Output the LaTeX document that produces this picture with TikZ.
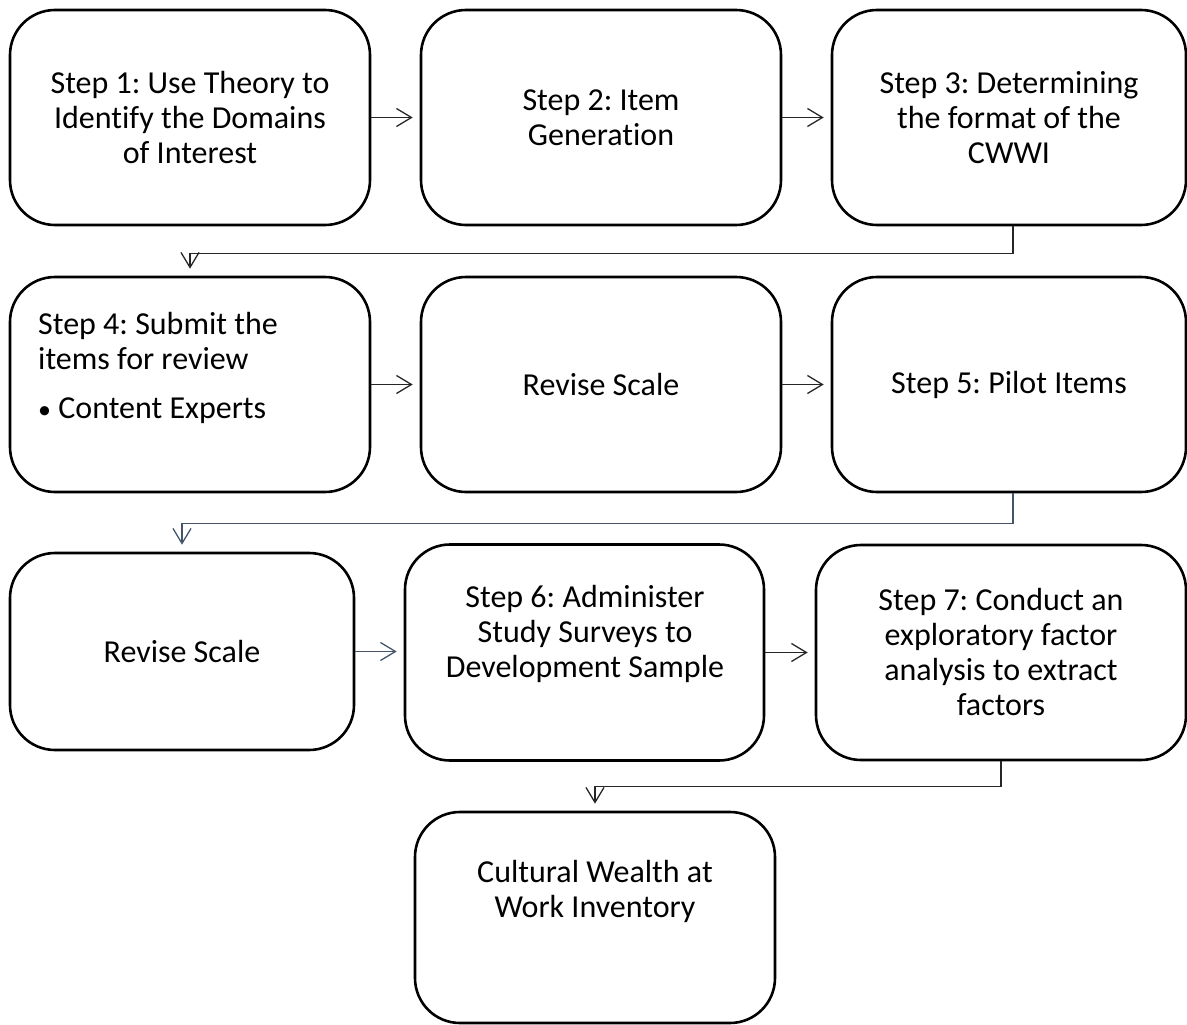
\documentclass[tikz,border=0pt]{standalone}
\usepackage{fontspec}
\setmainfont{Carlito}[Ligatures=NoCommon]
\usetikzlibrary{arrows.meta,calc}
\definecolor{slate}{HTML}{44546A}
\frenchspacing
\begin{document}
\begin{tikzpicture}[x=1pt,y=-1pt,
  box/.style={draw,line width=2.6pt,rounded corners=45pt,align=center,
    font=\fontsize{32}{35}\selectfont,inner sep=0pt},
  txt/.style={align=left,font=\fontsize{32}{35}\selectfont,inner sep=0pt},
  con/.style={line width=1.3pt,draw=#1,shorten >=7pt,
    -{Straight Barb[length=15pt,width=18pt,line width=1.3pt]}},
  con/.default={black!85}]
\useasboundingbox (0,0) rectangle (1187,1025);
% row 1
\node[box,minimum width=360pt,minimum height=215pt] (b1) at (190,117.5)
  {Step 1: Use Theory to\\Identify the Domains\\of Interest};
\node[box,minimum width=360pt,minimum height=215pt] (b2) at (601,117.5)
  {Step 2: Item\\Generation};
\node[box,minimum width=354pt,minimum height=215pt] (b3) at (1009,117.5)
  {Step 3: Determining\\the format of the\\CWWI};
% row 2
\node[box,minimum width=360pt,minimum height=215pt] (b4) at (190,384.5) {};
\node[txt,anchor=north west] (b4t) at (38,312)
  {Step 4: Submit the\\items for review\\[14pt]{\fontsize{26}{35}\selectfont\textbullet}\ Content Experts};
\node[box,minimum width=360pt,minimum height=215pt] (b5) at (601,384.5)
  {Revise Scale};
\node[box,minimum width=354pt,minimum height=215pt] (b6) at (1009,384.5)
  {Step 5: Pilot Items};
% row 3
\node[box,minimum width=344pt,minimum height=197pt] (b7) at (182,651.5)
  {Revise Scale};
\node[box,minimum width=359pt,minimum height=216pt] (b8) at (584.5,652.5) {};
\node[txt,align=center] (b8t) at (585,634)
  {Step 6: Administer\\Study Surveys to\\Development Sample};
\node[box,minimum width=370pt,minimum height=215pt] (b9) at (1001,652.5)
  {Step 7: Conduct an\\exploratory factor\\analysis to extract\\factors};
% row 4
\node[box,minimum width=360pt,minimum height=211pt] (b10) at (595,917.5) {};
\node[txt,align=center] (b10t) at (595,891)
  {Cultural Wealth at\\Work Inventory};
% connectors
\draw[con] (b1.east) -- (b2.west |- b1.east);
\draw[con] (b2.east) -- (b3.west |- b2.east);
\draw[con] ([xshift=4pt]b3.south) -- ++(0,27) -| (b4.north);
\draw[con] (b4.east) -- (b5.west |- b4.east);
\draw[con] (b5.east) -- (b6.west |- b5.east);
\draw[con=slate] ([xshift=4pt]b6.south) -- ++(0,30) -| (b7.north);
\draw[con=slate] (b7.east) -- (b8.west |- b7.east);
\draw[con] (b8.east) -- (b9.west |- b8.east);
\draw[con] (b9.south) -- ++(0,25) -| (b10.north);
\end{tikzpicture}
\end{document}
